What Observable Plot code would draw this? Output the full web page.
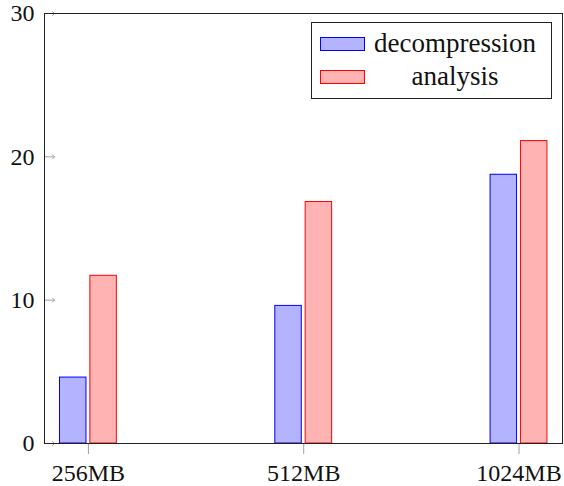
<!DOCTYPE html>
<html>
<head>
<meta charset="utf-8">
<script src="https://cdn.jsdelivr.net/npm/d3@7"></script>
<script src="https://cdn.jsdelivr.net/npm/@observablehq/plot@0.6"></script>
<style>
  html, body { margin: 0; padding: 0; background: #fff; }
  #wrap { position: relative; width: 564px; height: 486px; font-family: "Liberation Serif", "Times New Roman", Times, "DejaVu Serif", serif; }
  #wrap svg text { font-family: "Liberation Serif", "Times New Roman", Times, "DejaVu Serif", serif; }
  #legend { position: absolute; left: 311px; top: 22px; width: 239px; height: 75px; border: 1px solid #222; background: #fff; box-sizing: content-box; }
  .sw { position: absolute; left: 8px; width: 45px; height: 14px; box-sizing: border-box; }
  .lab { position: absolute; left: 56px; width: 174px; text-align: center; font-size: 27px; line-height: 27px; color: #111; white-space: nowrap; }
</style>
</head>
<body>
<div id="wrap"></div>
<script>
const categories = ["256MB", "512MB", "1024MB"];
const seriesNames = ["decompression", "analysis"];
const decompression = [4.6, 9.6, 18.75];
const analysis = [11.7, 16.85, 21.1];
const yTicks = [0, 10, 20, 30];

const fills = { decompression: "#b3b3ff", analysis: "#ffb3b3" };
const strokes = { decompression: "#0000ff", analysis: "#ff0000" };

const data = categories.flatMap((c, i) => [
  { i, series: "decompression", value: decompression[i] },
  { i, series: "analysis", value: analysis[i] }
]);

const xDomain = [-0.204, 2.202];
const halfW = 0.0615;   // half bar width (style)
const shift = 0.0705;   // bar offset from tick (style)
const off = { decompression: -shift, analysis: shift };

const chart = Plot.plot({
  width: 564,
  height: 486,
  marginLeft: 44,
  marginRight: 2,
  marginTop: 13,
  marginBottom: 43,
  style: { fontFamily: "'Liberation Serif', 'Times New Roman', Times, 'DejaVu Serif', serif", fontSize: "24px", background: "#fff", color: "#111" },
  x: { type: "linear", domain: xDomain },
  y: { domain: [0, 30] },
  marks: [
    Plot.rectY(data, {
      x1: d => d.i + off[d.series] - halfW,
      x2: d => d.i + off[d.series] + halfW,
      y1: 0,
      y2: "value",
      fill: d => fills[d.series],
      stroke: d => strokes[d.series],
      strokeWidth: 1
    }),
    Plot.vector(yTicks, { x: () => xDomain[0], y: d => d, length: 10, rotate: 90, anchor: "start", stroke: "#a0a0a0", strokeWidth: 1 }),
    Plot.axisX(categories.map((c, i) => i), {
      tickFormat: i => categories[i],
      tickSize: 11,
      tickPadding: 9,
      stroke: "#a0a0a0",
      fill: "#111",
      fontSize: 24,
      label: null
    }),
    Plot.axisY(yTicks, { tickSize: 0, tickPadding: 10, fontSize: 24, fill: "#111", label: null }),
    Plot.frame({ stroke: "#222", strokeWidth: 1 })
  ]
});

const wrap = document.getElementById("wrap");
wrap.appendChild(chart);

const legend = document.createElement("div");
legend.id = "legend";
seriesNames.forEach((name, k) => {
  const sw = document.createElement("div");
  sw.className = "sw";
  sw.style.top = (14 + k * 32.6) + "px";
  sw.style.background = fills[name];
  sw.style.border = "1px solid " + strokes[name];
  legend.appendChild(sw);
  const lab = document.createElement("div");
  lab.className = "lab";
  lab.style.top = (7 + k * 32.6) + "px";
  lab.textContent = name;
  legend.appendChild(lab);
});
wrap.appendChild(legend);
</script>
</body>
</html>
